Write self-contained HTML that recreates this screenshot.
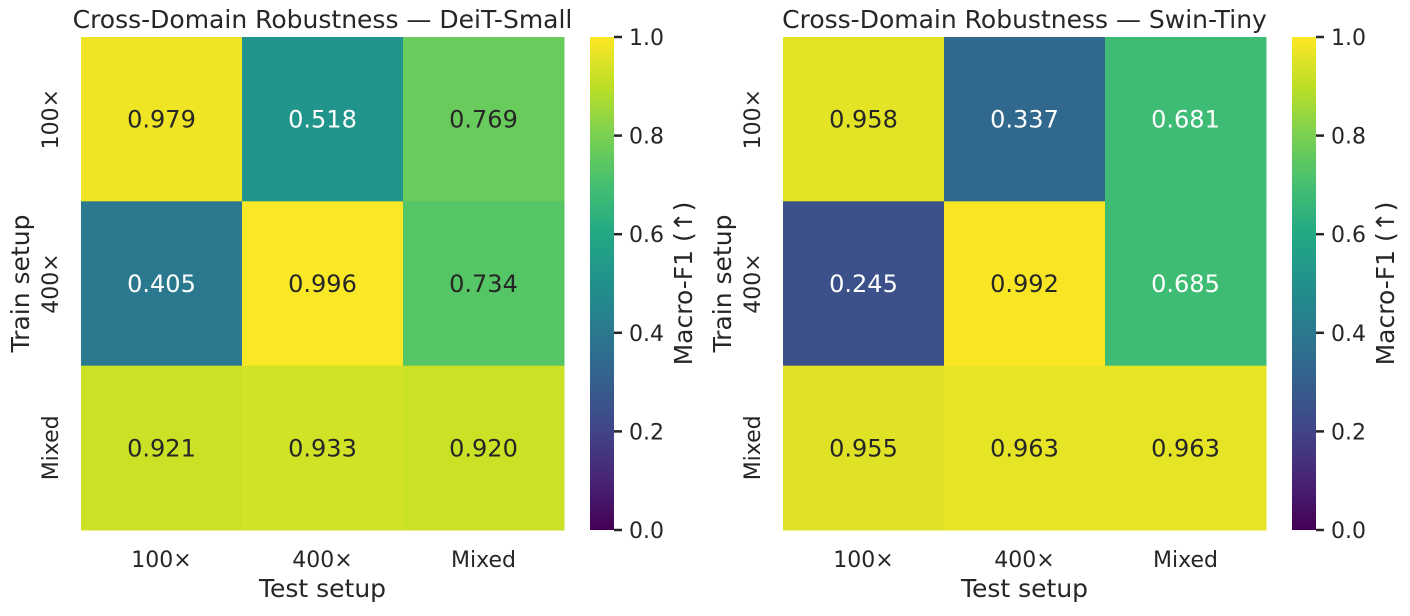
<!DOCTYPE html>
<html><head><meta charset="utf-8"><style>
body{margin:0;background:#fff;font-family:"Liberation Sans","DejaVu Sans",sans-serif;}
svg text{font-family:"DejaVu Sans","Liberation Sans",sans-serif;fill:#262626;}
</style></head><body>
<svg id="chart" width="1410" height="611" xmlns="http://www.w3.org/2000/svg">
<defs><linearGradient id="vir" x1="0" y1="1" x2="0" y2="0">
<stop offset="0" stop-color="#440154"/><stop offset="0.1" stop-color="#482475"/><stop offset="0.2" stop-color="#414487"/><stop offset="0.3" stop-color="#355f8d"/><stop offset="0.4" stop-color="#2a788e"/><stop offset="0.5" stop-color="#21918c"/><stop offset="0.6" stop-color="#22a884"/><stop offset="0.7" stop-color="#44bf70"/><stop offset="0.8" stop-color="#7ad151"/><stop offset="0.9" stop-color="#bddf26"/><stop offset="1" stop-color="#fde725"/>
</linearGradient></defs>
</svg>
<script>
const categories=["100×","400×","Mixed"];
const deitValues=[[0.979,0.518,0.769],[0.405,0.996,0.734],[0.921,0.933,0.920]];
const swinValues=[[0.958,0.337,0.681],[0.245,0.992,0.685],[0.955,0.963,0.963]];
const titles=["Cross-Domain Robustness — DeiT-Small","Cross-Domain Robustness — Swin-Tiny"];
const cbTicks=[0,0.2,0.4,0.6,0.8,1.0];
const stops=[[68,1,84],[72,36,117],[65,68,135],[53,95,141],[42,120,142],[33,145,140],[34,168,132],[68,191,112],[122,209,81],[189,223,38],[253,231,37]];
function vir(v){v=Math.max(0,Math.min(1,v));const p=v*10,i=Math.min(9,Math.floor(p)),f=p-i;
 const c=stops[i].map((a,k)=>Math.round(a+(stops[i+1][k]-a)*f));return c;}
const svg=document.getElementById('chart');const NS='http://www.w3.org/2000/svg';
function el(t,a,txt){const e=document.createElementNS(NS,t);for(const k in a)e.setAttribute(k,a[k]);if(txt!=null)e.textContent=txt;svg.appendChild(e);return e;}
function panel(x0,vals,title,key){
 const y0=37,W=483,H=493,cw=W/3,ch=H/3;
 const xs=i=>x0+i*cw, ys=j=>y0+j*ch;
 for(let r=0;r<3;r++)for(let c=0;c<3;c++){const v=vals[r][c];const col=vir(v);
  const rc=el('rect',{x:xs(c),y:ys(r),width:cw+0.5,height:ch+0.5,fill:`rgb(${col})`});
  
  
  const lum=(0.2126*col[0]+0.7152*col[1]+0.0722*col[2])/255;
  const t=el('text',{x:xs(c)+cw/2,y:ys(r)+ch/2+8.5,'text-anchor':'middle','font-size':24},v.toFixed(3));
  
  
  if(lum<0.63)t.style.fill='#fff';}
 for(let i=0;i<3;i++){
  const t=el('text',{x:xs(i)+cw/2,y:567,'text-anchor':'middle','font-size':22},categories[i]);
  
  const yy=ys(i)+ch/2;
  const u=el('text',{x:0,y:0,'text-anchor':'middle','font-size':22,transform:`translate(${x0-23},${yy}) rotate(-90)`},categories[i]);
  }
 let t=el('text',{x:x0+W/2,y:597,'text-anchor':'middle','font-size':25},'Test setup');
 
 t=el('text',{x:0,y:0,'text-anchor':'middle','font-size':25,transform:`translate(${x0-52},${y0+H/2}) rotate(-90)`},'Train setup');
 
 t=el('text',{x:x0+W/2,y:28,'text-anchor':'middle','font-size':25},title);
 
 const cx=x0+509,cwid=24;
 const cb=el('rect',{x:cx,y:y0,width:cwid,height:H,fill:'url(#vir)'});
 
 cbTicks.forEach(v=>{const y=y0+H*(1-v);
  el('line',{x1:cx+cwid,x2:cx+cwid+8,y1:y,y2:y,stroke:'#262626','stroke-width':2.5});
  const tt=el('text',{x:cx+cwid+15,y:y+8,'font-size':22},v.toFixed(1));
  });
 t=el('text',{x:0,y:0,'text-anchor':'middle','font-size':25,transform:`translate(${cx+cwid+78},${y0+H/2}) rotate(-90)`},'Macro-F1 (↑)');
 
}
panel(81,deitValues,titles[0],'deit');
panel(783,swinValues,titles[1],'swin');
</script>
</body></html>
